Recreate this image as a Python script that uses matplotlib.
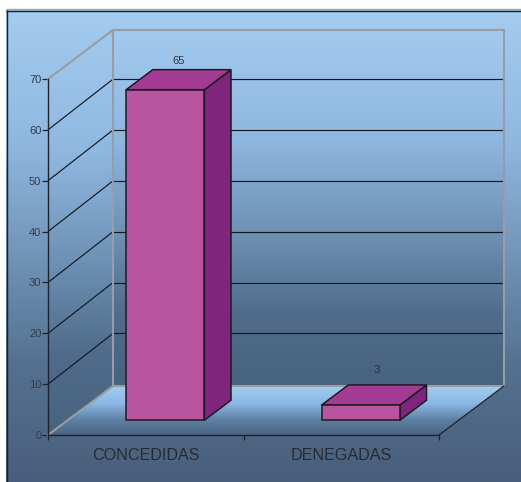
import numpy as np
import matplotlib
matplotlib.use("Agg")
import matplotlib.pyplot as plt
from matplotlib.colors import LinearSegmentedColormap
from matplotlib.patches import Polygon

categories = ["CONCEDIDAS", "DENEGADAS"]
values = [65, 3]
y_ticks = [0, 10, 20, 30, 40, 50, 60, 70]

plt.rcParams["font.family"] = ["Liberation Sans", "DejaVu Sans"]
W, H = 521, 482
fig = plt.figure(figsize=(W / 100, H / 100), dpi=100, facecolor="white")

# ---- background panel (pixel coordinates)
bg = fig.add_axes([0, 0, 1, 1], zorder=0)
bg.axis("off")
panel_cmap = LinearSegmentedColormap.from_list("panel", [
    (0.00, "#A4CCEF"), (0.27, "#90B9E2"), (0.50, "#7497BB"),
    (0.75, "#55718F"), (1.00, "#495F7B")])
bg.imshow(np.linspace(0, 1, 256)[:, None], cmap=panel_cmap, aspect="auto",
          extent=[6, W, H, 10], zorder=0)
bg.set_xlim(0, W)
bg.set_ylim(H, 0)
bg.plot([6, W], [9, 9], color="#A8A8A8", lw=1.0, zorder=1, solid_capstyle="butt")
bg.plot([6, W], [10.5, 10.5], color="#1E1E24", lw=1.0, zorder=2, solid_capstyle="butt")
bg.plot([6.5, 6.5], [10, H], color="#1E1E24", lw=1.0, zorder=2, solid_capstyle="butt")

# ---- front plane axes: x in category units, y in chart value
ax = fig.add_axes([48 / W, (H - 435) / H, 391 / W, 356 / H], zorder=1)
ax.patch.set_visible(False)
ax.set_xlim(0, 2)
ax.set_ylim(0, 70)
DX = 65 * 2 / 391
DY = 49 * 70 / 356
DY_GRID = 50.7 * 70 / 356


def P(x, v, d):
    """Oblique projection of category x, value v, depth d (0 front, 1 back)."""
    return (x + d * DX, v + d * DY)


def gradient(stops, corners, zo):
    vs = [c[1] for c in corners]
    cmap = LinearSegmentedColormap.from_list("g", stops)
    im = ax.imshow(np.linspace(0, 1, 256)[:, None], cmap=cmap, aspect="auto",
                   extent=[-1, 3, min(vs), max(vs)], origin="upper", zorder=zo)
    im.set_clip_path(Polygon(corners, transform=ax.transData))
    im.set_clip_box(fig.bbox)


wall_stops = [(0, "#A2CAEE"), (0.3, "#8FB8E1"), (0.55, "#7094B8"),
              (0.8, "#506C8A"), (1, "#486380")]
floor_stops = [(0, "#A2CDF1"), (0.35, "#8BB8E4"), (0.7, "#5E7FA2"), (1, "#4A6582")]

gradient(wall_stops, [P(0, 70, 1), P(2, 70, 1), P(2, 0, 1), P(0, 0, 1)], 1)
gradient(wall_stops, [P(0, 70, 0), P(0, 70, 1), P(0, 0, 1), P(0, 0, 0)], 1)
gradient(floor_stops, [P(0, 0, 1), P(2, 0, 1), P(2, 0, 0), P(0, 0, 0)], 1)
ax.set_xlim(0, 2)
ax.set_ylim(0, 70)

GRID = dict(color="#15181E", lw=0.85, clip_on=False, zorder=2, solid_capstyle="butt")
EDGE = dict(color="#989DA3", lw=1.5, clip_on=False, zorder=3, solid_capstyle="projecting")

for v in y_ticks[1:-1]:
    ax.plot([0, DX], [v, v + DY_GRID], **GRID)
    ax.plot([DX, 2 + DX], [v + DY_GRID, v + DY_GRID], **GRID)

# walls and floor outline
for p, q in [(P(0, 0, 0), P(0, 0, 1)), (P(0, 70, 0), P(0, 70, 1)),
             (P(0, 0, 1), P(0, 70, 1)), (P(0, 70, 1), P(2, 70, 1)),
             (P(2, 70, 1), P(2, 0, 1)), (P(0, 0, 1), P(2, 0, 1))]:
    ax.plot([p[0], q[0]], [p[1], q[1]], **EDGE)
p, q = P(2, 0, 0), P(2, 0, 1)
ax.plot([p[0], q[0]], [p[1], q[1]], color="#1E232B", lw=0.9, clip_on=False, zorder=3)

# ---- bars
BAR_W, D0, D1 = 0.4, 0.30, 0.71
FRONT, TOP, SIDE = "#B9559E", "#A43B92", "#7E267C"
label_offsets = [(0, 9), (2.5, 15)]
for i, (name, val) in enumerate(zip(categories, values)):
    c = i + 0.5
    l, r = c - BAR_W / 2, c + BAR_W / 2
    style = dict(edgecolor="#1E1A24", lw=1.1, joinstyle="miter", clip_on=False, zorder=5)
    ax.add_patch(Polygon([P(r, 0, D0), P(r, 0, D1), P(r, val, D1), P(r, val, D0)],
                         facecolor=SIDE, **style))
    ax.add_patch(Polygon([P(l, val, D0), P(l, val, D1), P(r, val, D1), P(r, val, D0)],
                         facecolor=TOP, **style))
    ax.add_patch(Polygon([P(l, 0, D0), P(r, 0, D0), P(r, val, D0), P(l, val, D0)],
                         facecolor=FRONT, **style))
    top = (P(c, val, (D0 + D1) / 2)[0], P(c, val, D1)[1])
    ax.annotate(str(val), xy=top, xytext=label_offsets[i], textcoords="offset pixels",
                ha="center", va="center", fontsize=8, color="#2C3440",
                annotation_clip=False, zorder=6)

# ---- axes furniture
for s in ("top", "right"):
    ax.spines[s].set_visible(False)
for s in ("left", "bottom"):
    ax.spines[s].set_color("#1E232B")
    ax.spines[s].set_linewidth(1.0)
    ax.spines[s].set_zorder(4)
ax.set_yticks(y_ticks)
ax.set_yticklabels([str(v) for v in y_ticks], va="center_baseline")
ax.tick_params(axis="y", length=4, width=0.9, color="#1E232B", pad=0.8,
               labelsize=8, labelcolor="#333C4A")
ax.set_xticks([0, 1, 2])
ax.set_xticklabels([])
ax.tick_params(axis="x", which="major", length=3.5, width=0.9, color="#1E232B")
ax.set_xticks([0.5, 1.5], minor=True)
ax.set_xticklabels(categories, minor=True)
ax.tick_params(axis="x", which="minor", length=0, pad=9, labelsize=11.6, labelcolor="#262A33")

fig.savefig("out.png", dpi=100, facecolor="white")
